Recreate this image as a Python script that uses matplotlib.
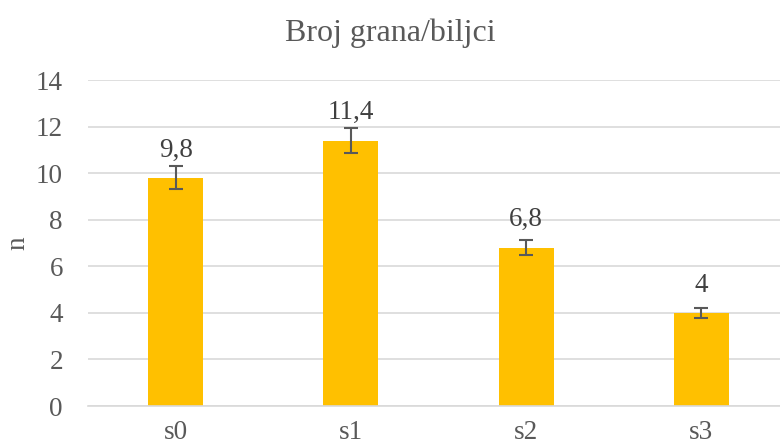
import matplotlib.pyplot as plt

categories = ['s0', 's1', 's2', 's3']
values = [9.8, 11.4, 6.8, 4]
errors = [0.5, 0.55, 0.32, 0.2]
labels = ['9,8', '11,4', '6,8', '4']

plt.rcParams['font.family'] = ['Liberation Serif', 'DejaVu Serif']
gray = '#595959'

fig = plt.figure(figsize=(7.8, 4.48), dpi=100)
ax = fig.add_axes([88 / 780, 42 / 448, 701 / 780, 326 / 448])

x = range(len(categories))
ax.bar(x, values, width=0.314, color='#FFC000', zorder=2)
ax.errorbar(x, values, yerr=errors, fmt='none', ecolor=gray, elinewidth=1.5,
            capsize=5, capthick=1.5, zorder=3)

for i, v in enumerate(values):
    ax.annotate(labels[i], (i, v), xytext=(0, 11), textcoords='offset points',
                ha='center', va='bottom', fontsize=19.5, color='#404040')

ax.set_xlim(-0.5, 3.5)
ax.set_ylim(0, 14)
ax.set_yticks(range(0, 15, 2))
ax.set_xticks(list(x))
ax.set_xticklabels(categories)
ax.grid(axis='y', color='#D9D9D9', linewidth=1.2, zorder=0)
ax.set_axisbelow(True)
for s in ['top', 'right', 'left']:
    ax.spines[s].set_visible(False)
ax.spines['bottom'].set_color('#D9D9D9')
ax.spines['bottom'].set_linewidth(1.2)
ax.tick_params(axis='both', length=0, labelsize=19.5, colors=gray)
ax.tick_params(axis='x', pad=10)
ax.tick_params(axis='y', pad=18)

ax.set_ylabel('n', fontsize=19.5, color=gray, labelpad=4)
fig.text(0.5, 0.925, 'Broj grana/biljci', ha='center', va='center',
         fontsize=23, color=gray)

fig.savefig('out.png', dpi=100)
